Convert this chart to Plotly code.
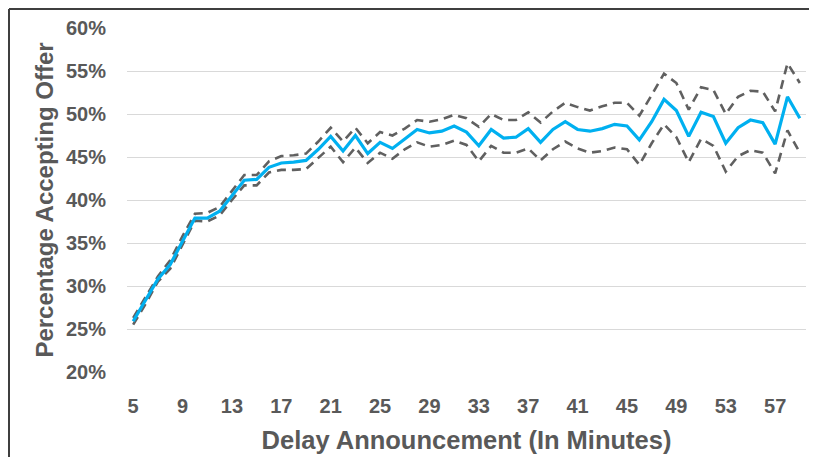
import plotly.graph_objects as go

minutes = list(range(5, 60))

accept_pct = [25.9, 28.3, 30.8, 32.5, 35.3, 37.9, 37.9, 38.7, 40.5, 42.3,
              42.4, 43.8, 44.3, 44.4, 44.6, 45.9, 47.4, 45.7, 47.5, 45.4,
              46.7, 46.0, 47.1, 48.2, 47.8, 48.0, 48.6, 47.9, 46.3, 48.2,
              47.2, 47.3, 48.3, 46.7, 48.2, 49.1, 48.2, 48.0, 48.3, 48.8,
              48.6, 47.0, 49.1, 51.7, 50.4, 47.4, 50.2, 49.7, 46.6, 48.4,
              49.3, 49.0, 46.5, 52.0, 49.5]

upper_pct = [26.3, 28.7, 31.1, 33.0, 35.8, 38.4, 38.5, 39.2, 41.0, 42.9,
             42.9, 44.5, 45.1, 45.2, 45.4, 46.8, 48.4, 46.8, 48.4, 46.6,
             47.9, 47.5, 48.3, 49.3, 49.1, 49.4, 49.9, 49.5, 48.5, 50.0,
             49.3, 49.3, 50.2, 49.0, 50.3, 51.3, 50.8, 50.4, 50.9, 51.3,
             51.3, 49.8, 52.2, 54.7, 53.6, 50.5, 53.1, 52.8, 50.0, 52.0,
             52.7, 52.6, 50.3, 55.9, 53.6]

lower_pct = [25.5, 27.9, 30.5, 32.0, 34.8, 37.6, 37.5, 38.2, 40.0, 41.7,
             41.7, 43.2, 43.5, 43.5, 43.6, 44.9, 46.2, 44.4, 46.1, 44.3,
             45.5, 44.8, 45.9, 46.7, 46.2, 46.4, 46.9, 46.4, 44.5, 46.3,
             45.5, 45.5, 46.0, 44.6, 45.9, 46.8, 46.0, 45.5, 45.7, 46.1,
             45.9, 44.1, 46.6, 48.8, 47.3, 44.4, 47.1, 46.3, 43.3, 45.1,
             45.8, 45.5, 43.1, 48.1, 45.5]

x_tickvals = list(range(5, 58, 4))
y_tickvals = [20, 25, 30, 35, 40, 45, 50, 55, 60]
y_ticktext = [f"{v}%" for v in y_tickvals]

# page has an 8px body margin; figure sized to fit inside the window
W, H = 801, 449
ML, MR, MT, MB = 119, 3, 20, 85

GRAY = "#595959"
DASH_GRAY = "#606060"
BLUE = "#00B0F0"
FONT = "Liberation Sans"

fig = go.Figure()
fig.add_trace(go.Scatter(x=minutes, y=upper_pct, mode="lines",
                         line=dict(color=DASH_GRAY, width=2.6, dash="9px,6px"),
                         showlegend=False, hoverinfo="skip"))
fig.add_trace(go.Scatter(x=minutes, y=lower_pct, mode="lines",
                         line=dict(color=DASH_GRAY, width=2.6, dash="9px,6px"),
                         showlegend=False, hoverinfo="skip"))
fig.add_trace(go.Scatter(x=minutes, y=accept_pct, mode="lines",
                         line=dict(color=BLUE, width=3.2),
                         showlegend=False))

pw = W - ML - MR
ph = H - MT - MB


def px_x(px):
    return (px - ML) / pw


def px_y(py):
    return (H - MB - py) / ph


border = dict(color="#3f3f3f", width=2)
fig.add_shape(type="line", xref="paper", yref="paper",
              x0=px_x(1), x1=px_x(W + 5), y0=px_y(1), y1=px_y(1), line=border)
fig.add_shape(type="line", xref="paper", yref="paper",
              x0=px_x(1), x1=px_x(1), y0=px_y(1), y1=px_y(H + 5), line=border)

fig.update_layout(
    width=W, height=H,
    margin=dict(l=ML, r=MR, t=MT, b=MB, pad=0),
    paper_bgcolor="white", plot_bgcolor="white",
    font=dict(family=FONT, color=GRAY),
    xaxis=dict(
        range=[4.5, 59.5],
        tickvals=x_tickvals,
        tickfont=dict(family=FONT, size=20, color=GRAY, weight="bold"),
        showgrid=False, zeroline=False, showline=False,
        ticks="outside", ticklen=16, tickcolor="rgba(0,0,0,0)",
        automargin=False,
        title=dict(text="Delay Announcement (In Minutes)",
                   font=dict(family=FONT, size=25.5, color=GRAY, weight="bold"),
                   standoff=15),
    ),
    yaxis=dict(
        range=[20, 60],
        tickvals=y_tickvals, ticktext=y_ticktext,
        tickfont=dict(family=FONT, size=20, color=GRAY, weight="bold"),
        showgrid=True, gridcolor="#d9d9d9", gridwidth=1,
        zeroline=False, showline=False,
        ticks="outside", ticklen=16, tickcolor="rgba(0,0,0,0)",
        automargin=False,
        title=dict(text="Percentage Accepting Offer",
                   font=dict(family=FONT, size=24, color=GRAY, weight="bold"),
                   standoff=5),
    ),
)

fig.write_html("out.html")
